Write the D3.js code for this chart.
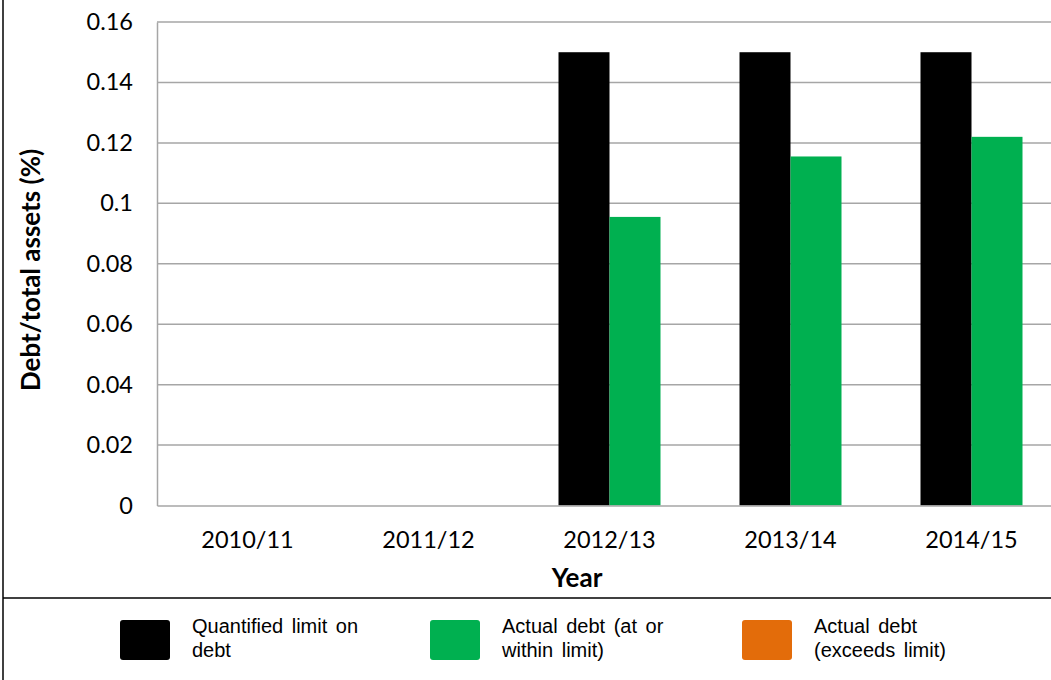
<!DOCTYPE html>
<html>
<head>
<meta charset="utf-8">
<script src="https://cdn.jsdelivr.net/npm/d3@7"></script>
<style>
  html, body { margin: 0; padding: 0; background: #fff; }
  svg { display: block; }
</style>
</head>
<body>
<svg id="chart" width="1051" height="680"></svg>
<script>
// Financial years on the category axis
const years = ["2010/11", "2011/12", "2012/13", "2013/14", "2014/15"];
// Quantified limit on debt (null where no value was reported)
const limitValues = [null, null, 0.15, 0.15, 0.15];
// Actual debt within limit
const actualWithin = [null, null, 0.0955, 0.1155, 0.122];
// Actual debt exceeding limit (none reported)
const actualExceeds = [null, null, null, null, null];
// Y axis tick values
const yTicks = [0, 0.02, 0.04, 0.06, 0.08, 0.1, 0.12, 0.14, 0.16];

const seriesNames = ["Quantified limit on debt", "Actual debt (at or within limit)", "Actual debt (exceeds limit)"];
const seriesColors = ["#000000", "#00b050", "#e36c0a"];
const legendLines = [["Quantified limit on", "debt"], ["Actual debt (at or", "within limit)"], ["Actual debt", "(exceeds limit)"]];

const svg = d3.select("#chart");
const W = 1051, H = 680;

const plot = { left: 157, top: 22, right: 1062, bottom: 505.5 };

const x = d3.scaleBand().domain(years).range([plot.left, plot.right]).paddingInner(0).paddingOuter(0);
const y = d3.scaleLinear().domain([0, 0.16]).range([plot.bottom, plot.top]);

// Outer frame edge and legend separator
svg.append("line").attr("x1", 3).attr("x2", 3).attr("y1", 0).attr("y2", H)
  .attr("stroke", "#000").attr("stroke-width", 1.5);
svg.append("line").attr("x1", 3).attr("x2", W).attr("y1", 598).attr("y2", 598)
  .attr("stroke", "#000").attr("stroke-width", 1.5);

// Gridlines
svg.append("g").selectAll("line").data(yTicks.filter(d => d > 0)).join("line")
  .attr("x1", plot.left).attr("x2", plot.right)
  .attr("y1", d => y(d)).attr("y2", d => y(d))
  .attr("stroke", "#a6a6a6").attr("stroke-width", 1.5);

// Bars: grouped by year, two series side by side
const sub = d3.scaleBand().domain([0, 1]).range([0, 102]);
const groupOffset = (x.bandwidth() - 102) / 2;
const barSeries = [limitValues, actualWithin];
barSeries.forEach((vals, si) => {
  svg.append("g").selectAll("rect")
    .data(years.map((yr, i) => ({ yr, v: vals[i] })).filter(d => d.v != null))
    .join("rect")
    .attr("x", d => x(d.yr) + groupOffset + sub(si))
    .attr("width", sub.bandwidth())
    .attr("y", d => y(d.v))
    .attr("height", d => y(0) - y(d.v))
    .attr("fill", seriesColors[si]);
});

// Axes
const yAxis = d3.axisLeft(y).tickValues(yTicks).tickSize(0).tickPadding(24)
  .tickFormat(d => d === 0 ? "0" : String(+d.toFixed(2)));
const gy = svg.append("g").attr("transform", `translate(${plot.left},0)`).call(yAxis);
gy.select(".domain").attr("stroke", "#a6a6a6").attr("stroke-width", 1.5);
gy.selectAll("text").attr("font-family", "Lato, sans-serif").attr("font-size", 23.5).attr("fill", "#000");

const xAxis = d3.axisBottom(x).tickSize(0).tickPadding(26);
const gx = svg.append("g").attr("transform", `translate(0,${plot.bottom})`).call(xAxis);
gx.select(".domain").attr("stroke", "#a6a6a6").attr("stroke-width", 1.5);
gx.selectAll("text").attr("font-family", "Lato, sans-serif").attr("font-size", 23.5).attr("fill", "#000");

// Axis titles
svg.append("text").attr("x", 577).attr("y", 587).attr("text-anchor", "middle")
  .attr("font-family", "Lato, sans-serif").attr("font-weight", "bold").attr("font-size", 26)
  .text("Year");
svg.append("text").attr("transform", "translate(40,270) rotate(-90)").attr("text-anchor", "middle")
  .attr("font-family", "Lato, sans-serif").attr("font-weight", "bold").attr("font-size", 26)
  .text("Debt/total assets (%)");

// Legend
const legendX = [120, 430, 742];
const legend = svg.append("g");
seriesNames.forEach((name, i) => {
  const g = legend.append("g").attr("transform", `translate(${legendX[i]},620)`);
  g.append("rect").attr("width", 50).attr("height", 40).attr("rx", 3)
    .attr("fill", seriesColors[i]);
  const t = g.append("text").attr("x", 72).attr("y", 13)
    .attr("font-family", "'Liberation Sans', Arial, sans-serif").attr("font-size", 20)
    .attr("word-spacing", 3).attr("fill", "#000");
  legendLines[i].forEach((ln, j) => {
    t.append("tspan").attr("x", 72).attr("dy", j === 0 ? 0 : 23.5).text(ln);
  });
});
</script>
</body>
</html>
